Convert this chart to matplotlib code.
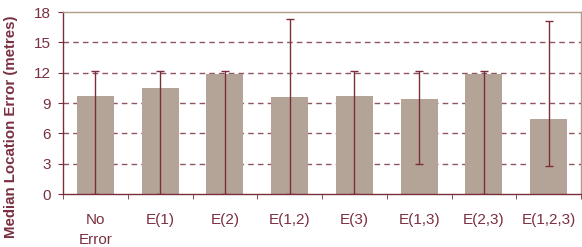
import matplotlib
matplotlib.use("Agg")
import matplotlib.pyplot as plt
import numpy as np

categories = ["No\nError", "E(1)", "E(2)", "E(1,2)", "E(3)", "E(1,3)", "E(2,3)", "E(1,2,3)"]
medians = [9.7, 10.5, 11.9, 9.6, 9.7, 9.4, 11.9, 7.4]
err_high = [12.2, 12.2, 12.2, 17.3, 12.2, 12.2, 12.2, 17.1]
err_low = [0.0, 0.0, 0.0, 0.0, 0.0, 3.0, 0.0, 2.8]
yticks = [0, 3, 6, 9, 12, 15, 18]

plt.rcParams['font.family'] = ['Liberation Sans', 'DejaVu Sans']
text_col = "#7a3040"
dark = "#7b2e3a"
bar_col = "#b4a498"

fig = plt.figure(figsize=(5.82, 2.47), dpi=100)
ax = fig.add_axes([63/582, 1-194/247, (581-63)/582, (194-12)/247])

x = np.arange(len(categories))
med = np.array(medians)
lo = med - np.array(err_low)
hi = np.array(err_high) - med
ax.bar(x, med, width=0.57, color=bar_col, zorder=2)
ax.errorbar(x, med, yerr=[lo, hi], fmt='none', ecolor=dark, elinewidth=1.0,
            capsize=3, capthick=1.0, zorder=3)

ax.set_xlim(-0.5, len(categories) - 0.5)
ax.set_ylim(0, 18)
ax.set_yticks(yticks)
ax.set_yticklabels([str(v) for v in yticks], fontsize=11, color=text_col)
ax.set_xticks(x)
ax.set_xticklabels(categories, fontsize=11, color=text_col, linespacing=1.5)
ax.tick_params(axis='x', length=0, pad=14)
ax.set_xticks(np.arange(-0.5, len(categories)), minor=True)
ax.tick_params(axis='x', which='minor', length=3.6, color=dark, direction='out')
ax.tick_params(axis='y', length=3.6, color=dark, direction='out', pad=5)

for v in yticks[1:-1]:
    ax.axhline(v, color="#8f5562", linestyle=(0, (4, 3)), linewidth=1.0, zorder=1)

for s in ['left', 'bottom']:
    ax.spines[s].set_color(dark)
    ax.spines[s].set_linewidth(1.0)
for s in ['top', 'right']:
    ax.spines[s].set_color("#b09a88")
    ax.spines[s].set_linewidth(1.0)

fig.text(11.5/582, 1-127/247, "Median Location Error (metres)", rotation=90,
         ha='center', va='center', fontsize=10.8, fontweight='bold', color=text_col)

fig.savefig("out.png", dpi=100)
